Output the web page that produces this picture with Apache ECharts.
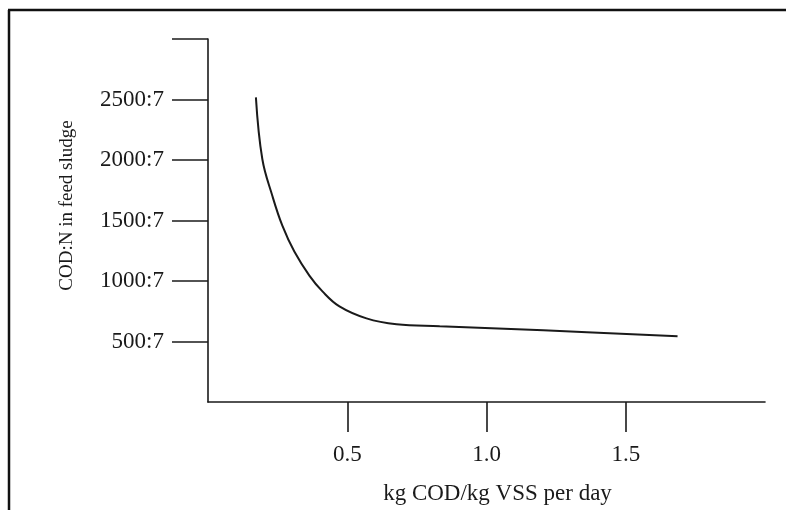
<!DOCTYPE html>
<html><head><meta charset="utf-8">
<script src="https://cdn.jsdelivr.net/npm/echarts@6/dist/echarts.min.js"></script>
<style>html,body{margin:0;padding:0;background:#fff}#c{width:786px;height:510px}</style>
</head><body><div id="c"></div>
<script>
// kg COD/kg VSS per day
const loading = [0.172, 0.195, 0.231, 0.267, 0.310, 0.364, 0.411, 0.472, 0.569, 0.677, 0.832, 1.204, 1.686];
// COD (per 7 N) in feed sludge
const codRatio = [2518, 2008, 1704, 1457, 1243, 1045, 914, 790, 691, 642, 626, 593, 543];
const xTickValues = [0.5, 1.0, 1.5];
const yTickValues = [500, 1000, 1500, 2000, 2500, 3000];
const yLabelValues = [500, 1000, 1500, 2000, 2500];
const ratioSuffix = ':7';
const xName = 'kg COD/kg VSS per day';
const yName = 'COD:N in feed sludge';

const font = '"Liberation Serif", "Times New Roman", serif';
const ink = '#1a1a1a';
const chart = echarts.init(document.getElementById('c'), null, {renderer: 'canvas'});
chart.setOption({
  backgroundColor: '#fff',
  animation: false,
  grid: {left: 208, right: 21, top: 39, bottom: 107, containLabel: false},
  xAxis: {
    type: 'value', min: 0, max: 2, interval: 0.5,
    name: xName, nameLocation: 'middle', nameGap: 80,
    nameTextStyle: {fontFamily: font, fontSize: 23, color: ink, padding: [0, 0, 0, 22]},
    axisLine: {show: true, onZero: false, lineStyle: {color: ink, width: 1.6}},
    axisTick: {show: true, inside: false, length: 30, customValues: xTickValues, lineStyle: {color: ink, width: 1.6}},
    axisLabel: {customValues: xTickValues, margin: 41, fontFamily: font, fontSize: 23, color: ink,
      formatter: v => v.toFixed(1)},
    splitLine: {show: false}
  },
  yAxis: {
    type: 'value', min: 0, max: 3000, interval: 500,
    name: yName, nameLocation: 'middle', nameGap: 131, nameRotate: 90,
    nameTextStyle: {fontFamily: font, fontSize: 19, color: ink, padding: [0, 0, 0, 30]},
    axisLine: {show: true, onZero: false, lineStyle: {color: ink, width: 1.6}},
    axisTick: {show: true, inside: false, length: 36, customValues: yTickValues, lineStyle: {color: ink, width: 1.6}},
    axisLabel: {customValues: yLabelValues, margin: 44, fontFamily: font, fontSize: 23, color: ink,
      formatter: v => v + ratioSuffix},
    splitLine: {show: false}
  },
  graphic: [
    {type: 'line', shape: {x1: 9, y1: 10, x2: 9, y2: 510}, style: {stroke: '#111', lineWidth: 2.5}},
    {type: 'line', shape: {x1: 8, y1: 10, x2: 786, y2: 10}, style: {stroke: '#111', lineWidth: 2.5}}
  ],
  series: [{
    type: 'line',
    data: loading.map((x, i) => [x, codRatio[i]]),
    showSymbol: false,
    smooth: 0.4,
    lineStyle: {color: ink, width: 2}
  }]
});
</script>
</body></html>
